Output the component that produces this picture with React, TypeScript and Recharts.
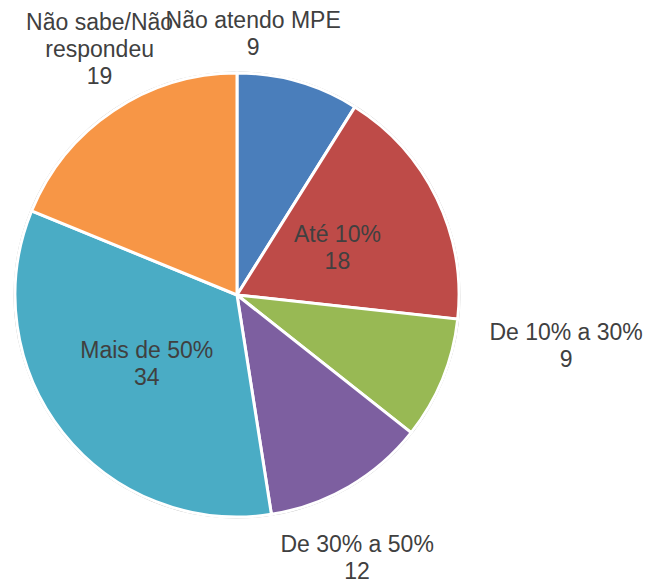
import { PieChart, Pie, Cell } from 'recharts';

const categories = [
  'Não atendo MPE',
  'Até 10%',
  'De 10% a 30%',
  'De 30% a 50%',
  'Mais de 50%',
  'Não sabe/Não respondeu',
];
const values = [9, 18, 9, 12, 34, 19];

// label lines as they appear on the chart
const labelLines = [
  ['Não atendo MPE'],
  ['Até 10%'],
  ['De 10% a 30%'],
  ['De 30% a 50%'],
  ['Mais de 50%'],
  ['Não sabe/Não', 'respondeu'],
];

const COLORS = ['#4A7EBB', '#BE4B48', '#98B954', '#7D5FA0', '#4AACC5', '#F79646'];

// radius factor and angular nudge (deg, clockwise) per label, Excel "best fit" style
const LABEL_LAYOUT = [
  { r: 1.18, shift: -12.5 },
  { r: 0.5, shift: 0.6 },
  { r: 1.5, shift: -13.5 },
  { r: 1.3, shift: 5.7 },
  { r: 0.51, shift: 1.2 },
  { r: 1.27, shift: 4.7 },
];

const data = categories.map((name, i) => ({ name, value: values[i] }));
const ring = [{ name: 'outline', value: 1 }];

const RAD = Math.PI / 180;
const FONT = '"Liberation Sans", Arial, sans-serif';
const LINE_H = 27;

function renderLabel(props: any) {
  const { cx, cy, outerRadius, midAngle, index, value } = props;
  const layout = LABEL_LAYOUT[index];
  const angle = midAngle - layout.shift;
  const r = outerRadius * layout.r;
  const x = cx + r * Math.cos(-angle * RAD);
  const y = cy + r * Math.sin(-angle * RAD);
  const lines = [...labelLines[index], String(value)];
  const startY = y - ((lines.length - 1) * LINE_H) / 2;
  return (
    <text
      key={`lbl-${index}`}
      x={x}
      y={startY}
      textAnchor="middle"
      dominantBaseline="central"
      fill="#404040"
      fontSize={23}
      fontFamily={FONT}
    >
      {lines.map((line, i) => (
        <tspan key={i} x={x} y={startY + i * LINE_H}>
          {line}
        </tspan>
      ))}
    </text>
  );
}

export default function App() {
  return (
    <div style={{ position: 'absolute', left: 0, top: 0, width: 650, height: 580, background: '#fff' }}>
      <PieChart width={650} height={580} margin={{ top: 0, right: 0, bottom: 0, left: 0 }}>
        <Pie
          data={ring}
          dataKey="value"
          cx={237}
          cy={295}
          innerRadius={222}
          outerRadius={223.5}
          fill="#b0b0b0"
          stroke="none"
          isAnimationActive={false}
        />
        <Pie
          data={data}
          dataKey="value"
          cx={237}
          cy={295}
          outerRadius={222}
          startAngle={90}
          endAngle={-270}
          stroke="#ffffff"
          strokeWidth={3}
          label={renderLabel}
          labelLine={false}
          isAnimationActive={false}
        >
          {data.map((entry, index) => (
            <Cell key={entry.name} fill={COLORS[index]} />
          ))}
        </Pie>
      </PieChart>
    </div>
  );
}
